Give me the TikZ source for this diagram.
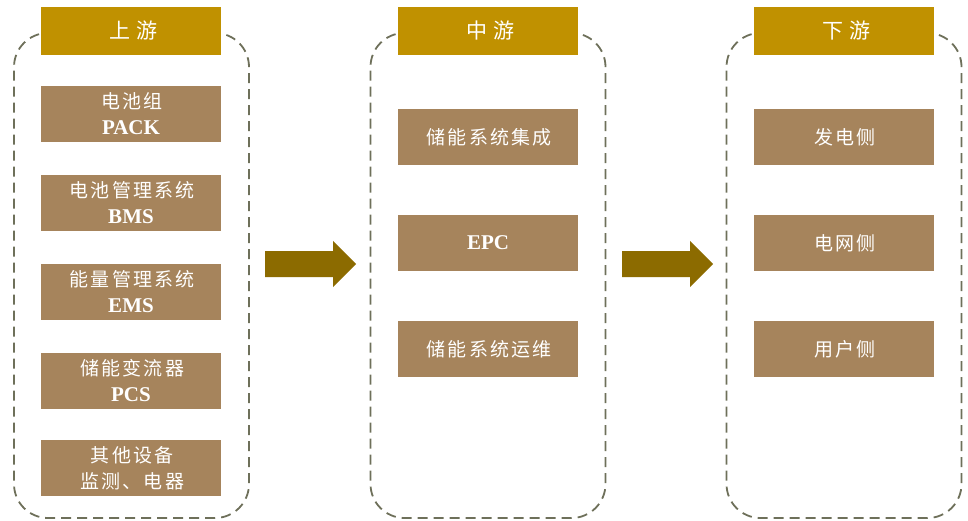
\documentclass[tikz,border=0pt]{standalone}
\usepackage{fontspec}
\setmainfont{Liberation Serif}
\newfontfamily\cjk[LetterSpace=12]{Noto Sans CJK SC}
\newfontfamily\cjkh[LetterSpace=25]{Noto Sans CJK SC}
\definecolor{hdr}{HTML}{C09100}
\definecolor{itembg}{HTML}{A6845C}
\definecolor{arr}{HTML}{8C6B00}
\definecolor{dash}{HTML}{6E705A}
\newcommand{\zh}[1]{{\cjk #1}\hspace*{-2.3pt}}
\newcommand{\la}[1]{{\fontsize{21}{26}\selectfont\bfseries #1}}
\begin{document}
\begin{tikzpicture}[x=1pt,y=-1pt,
  colbox/.style={draw=dash, line width=1.8pt, dash pattern=on 10pt off 6pt, rounded corners=34pt, minimum width=235pt, minimum height=485pt, inner sep=0pt},
  hdrbox/.style={fill=hdr, text=white, minimum width=180pt, minimum height=48pt, inner sep=0pt, font=\cjkh\fontsize{21}{22}\selectfont},
  itembox/.style={fill=itembg, text=white, minimum width=180pt, minimum height=56pt, inner sep=0pt, align=center, font=\fontsize{19}{26}\selectfont},
  bigarrow/.style={fill=arr}
]
\useasboundingbox (0,0) rectangle (968,521);
% column frames
\node[colbox] (colL) at (131.5,275.5) {};
\node[colbox] (colM) at (488,275.5) {};
\node[colbox] (colR) at (844,275.5) {};
% headers
\node[hdrbox] (hL) at (131,31) {上游\hspace*{-5pt}};
\node[hdrbox] (hM) at (488,31) {中游\hspace*{-5pt}};
\node[hdrbox] (hR) at (844,31) {下游\hspace*{-5pt}};
% left items
\node[itembox] (l1) at (131,114) {\zh{电池组}\\\la{PACK}};
\node[itembox] (l2) at (131,203) {\zh{电池管理系统}\\\la{BMS}};
\node[itembox] (l3) at (131,292) {\zh{能量管理系统}\\\la{EMS}};
\node[itembox] (l4) at (131,381) {\zh{储能变流器}\\\la{PCS}};
\node[itembox] (l5) at (131,468) {\zh{其他设备}\\\zh{监测、电器}};
% middle items
\node[itembox] (m1) at (488,137) {\zh{储能系统集成}};
\node[itembox] (m2) at (488,243) {\la{EPC}};
\node[itembox] (m3) at (488,349) {\zh{储能系统运维}};
% right items
\node[itembox] (r1) at (844,137) {\zh{发电侧}};
\node[itembox] (r2) at (844,243) {\zh{电网侧}};
\node[itembox] (r3) at (844,349) {\zh{用户侧}};
% arrows
\fill[bigarrow] (265,251) -- (333,251) -- (333,241) -- (356,264) -- (333,287) -- (333,277) -- (265,277) -- cycle;
\fill[bigarrow] (622,251) -- (690,251) -- (690,241) -- (713,264) -- (690,287) -- (690,277) -- (622,277) -- cycle;
\end{tikzpicture}
\end{document}
